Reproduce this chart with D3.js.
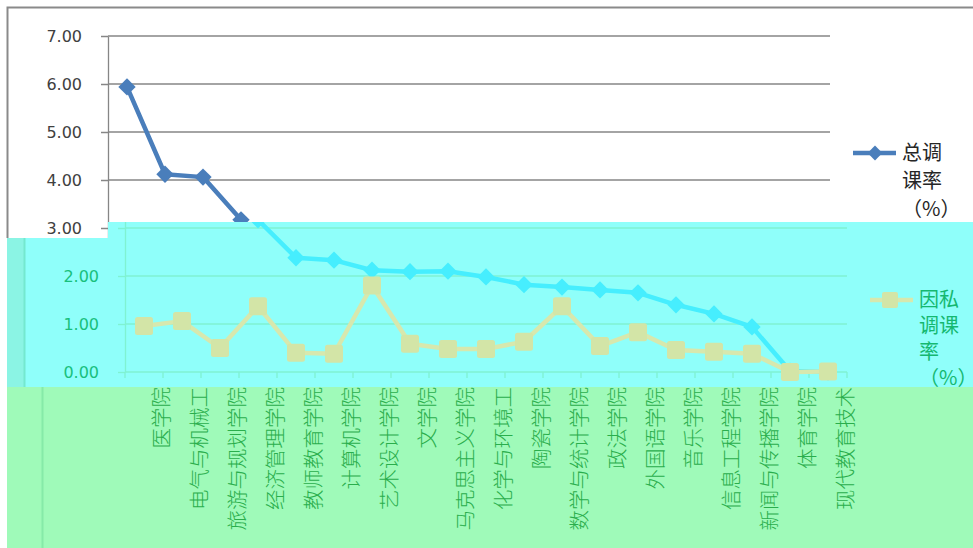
<!DOCTYPE html>
<html>
<head>
<meta charset="utf-8">
<script src="https://cdn.jsdelivr.net/npm/d3@7"></script>
<style>
  body { margin: 0; background: #fff; }
  svg { display: block; }
</style>
</head>
<body>
<div id="chart"></div>
<script>
var categories = ['医学院', '电气与机械工', '旅游与规划学院', '经济管理学院', '教师教育学院', '计算机学院',
  '艺术设计学院', '文学院', '马克思主义学院', '化学与环境工', '陶瓷学院', '数学与统计学院', '政法学院',
  '外国语学院', '音乐学院', '信息工程学院', '新闻与传播学院', '体育学院', '现代教育技术'];
var totalRate = [5.94, 4.12, 4.06, 3.17, 2.38, 2.33, 2.12, 2.09, 2.10, 1.98, 1.82, 1.77, 1.71, 1.65, 1.40, 1.21, 0.94, 0.02, 0.00];
var privateRate = [0.96, 1.06, 0.50, 1.37, 0.40, 0.38, 1.80, 0.59, 0.48, 0.48, 0.63, 1.37, 0.54, 0.83, 0.46, 0.42, 0.38, 0.00, 0.01];
var yTicks = [0, 1, 2, 3, 4, 5, 6, 7];
var legendTotal = ['总调', '课率', '（%）'];
var legendPrivate = ['因私', '调课', '率', '（%）'];

var width = 973, height = 548;
var numFormat = d3.format('.2f');

var x = d3.scaleBand().domain(categories).range([108, 830]);
var y = d3.scaleLinear().domain([0, 7]).range([372, 36]);
var cx = function(d, i) { return x(categories[i]) + x.bandwidth() / 2; };

var svg = d3.select('#chart').append('svg')
  .attr('width', width)
  .attr('height', height);

svg.append('rect')
  .attr('width', width)
  .attr('height', height)
  .attr('fill', '#fff');

var defs = svg.append('defs');
function addClip(id, rects) {
  var cp = defs.append('clipPath').attr('id', id);
  rects.forEach(function(r) {
    cp.append('rect').attr('x', r[0]).attr('y', r[1]).attr('width', r[2]).attr('height', r[3]);
  });
}
//the picture is split in three strips, the lower two are shifted and recoloured
var strips = {
  top: [[0, 0, 973, 222], [0, 222, 108, 16]],
  mid: [[0, 238, 973, 149], [108, 222, 865, 16]],
  bot: [[0, 387, 973, 161]]
};
addClip('clip-top', strips.top);
addClip('clip-mid', strips.mid);
addClip('clip-bot', strips.bot);

var palettes = {
  normal: { bg: null, border: '#8a8a8a', grid: '#868686', text: '#404040', legend: '#262626', s1: '#4a7ebb', s2: '#b5c98a', s2line: '#b5c98a' },
  cyan:   { bg: '#8ffffa', strip: '#8bf4e4', border: '#74e8cf', grid: '#7ff2d2', text: '#19c07c', legend: '#15b870', s1: '#46eefe', s2: '#d3e5a7', s2line: '#d7e8ae' },
  green:  { bg: '#9ffab9', border: '#86eaa8', grid: '#8aeeae', text: '#2aae4c', legend: '#2aae4c', s1: '#5fe8c8', s2: '#c8eaa8', s2line: '#c8eaa8' }
};

function drawChart(g, p) {
  //outer chart border
  g.append('path')
    .attr('d', 'M7.5,' + height + 'V7.5H' + width)
    .attr('fill', 'none')
    .attr('stroke', p.border)
    .attr('stroke-width', 2);

  //gridlines
  g.append('g').selectAll('line')
    .data(yTicks)
    .enter().append('line')
      .attr('x1', 108).attr('x2', 830)
      .attr('y1', function(d) { return y(d); })
      .attr('y2', function(d) { return y(d); })
      .attr('stroke', p.grid)
      .attr('stroke-width', 1.3);

  //y axis
  var yAxis = g.append('g')
    .attr('transform', 'translate(108,0)')
    .call(d3.axisLeft(y).tickValues(yTicks).tickFormat(numFormat).tickSize(7).tickSizeOuter(0).tickPadding(19));
  yAxis.select('.domain').attr('stroke', p.grid).attr('stroke-width', 1.3);
  yAxis.selectAll('.tick line').attr('stroke', p.grid).attr('stroke-width', 1.3);
  yAxis.selectAll('.tick text')
    .attr('fill', p.text)
    .style('font-family', 'DejaVu Sans, Verdana, sans-serif')
    .style('font-size', '16px');

  //x axis ticks between categories
  g.append('g').selectAll('line')
    .data(d3.range(categories.length + 1))
    .enter().append('line')
      .attr('x1', function(i) { return 108 + i * x.step(); })
      .attr('x2', function(i) { return 108 + i * x.step(); })
      .attr('y1', y(0)).attr('y2', y(0) + 6)
      .attr('stroke', p.grid)
      .attr('stroke-width', 1.3);

  //category labels
  g.append('g').selectAll('text')
    .data(categories)
    .enter().append('text')
      .attr('transform', function(d) { return 'translate(' + (x(d) + x.bandwidth() / 2) + ',387) rotate(-90)'; })
      .attr('text-anchor', 'end')
      .attr('dy', '0.36em')
      .attr('fill', p.text)
      .style('font-family', 'Noto Sans CJK SC, sans-serif')
      .style('font-weight', 300)
      .style('font-size', '20.5px')
      .text(function(d) { return d; });

  //series lines
  var line1 = d3.line().x(cx).y(function(d) { return y(d); });
  g.append('path')
    .datum(totalRate)
    .attr('d', line1)
    .attr('fill', 'none')
    .attr('stroke', p.s1)
    .attr('stroke-width', 4.5)
    .attr('stroke-linejoin', 'round');
  g.append('g').selectAll('path')
    .data(totalRate)
    .enter().append('path')
      .attr('d', d3.symbol(d3.symbolSquare, 150))
      .attr('transform', function(d, i) { return 'translate(' + cx(d, i) + ',' + y(d) + ') rotate(45)'; })
      .attr('fill', p.s1);

  g.append('path')
    .datum(privateRate)
    .attr('d', line1)
    .attr('fill', 'none')
    .attr('stroke', p.s2line)
    .attr('stroke-width', 4.5)
    .attr('stroke-linejoin', 'round');
  g.append('g').selectAll('rect')
    .data(privateRate)
    .enter().append('rect')
      .attr('x', function(d, i) { return cx(d, i) - 9; })
      .attr('y', function(d) { return y(d) - 9; })
      .attr('width', 18).attr('height', 18)
      .attr('rx', 2.5)
      .attr('fill', p.s2);

  //legend
  var leg1 = g.append('g').attr('transform', 'translate(853,153)');
  leg1.append('line').attr('x1', 0).attr('x2', 43).attr('stroke', p.s1).attr('stroke-width', 4.5);
  leg1.append('path').attr('d', d3.symbol(d3.symbolSquare, 110)).attr('transform', 'translate(22,0) rotate(45)').attr('fill', p.s1);
  leg1.selectAll('text')
    .data(legendTotal)
    .enter().append('text')
      .attr('x', 49)
      .attr('y', function(d, i) { return i * 28; })
      .attr('dy', '0.36em')
      .attr('fill', p.legend)
      .style('font-family', 'Noto Sans CJK SC, sans-serif')
      .style('font-size', '20px')
      .text(function(d) { return d; });

  var leg2 = g.append('g').attr('transform', 'translate(853,300)');
  leg2.append('line').attr('x1', 0).attr('x2', 43).attr('stroke', p.s2line).attr('stroke-width', 4.5);
  leg2.append('rect').attr('x', 12).attr('y', -8).attr('width', 16).attr('height', 16).attr('rx', 2).attr('fill', p.s2);
  leg2.selectAll('text')
    .data(legendPrivate)
    .enter().append('text')
      .attr('x', 49)
      .attr('y', function(d, i) { return i * 26; })
      .attr('dy', '0.36em')
      .attr('fill', p.legend)
      .style('font-family', 'Noto Sans CJK SC, sans-serif')
      .style('font-size', '20px')
      .text(function(d) { return d; });
}

function drawStrip(name, palette, shift) {
  var outer = svg.append('g').attr('clip-path', 'url(#clip-' + name + ')');
  if (palette.bg) {
    outer.append('rect').attr('x', 7).attr('y', 0).attr('width', width - 7).attr('height', height).attr('fill', palette.bg);
  }
  if (palette.strip) {
    outer.append('rect').attr('x', 7).attr('y', 0).attr('width', shift).attr('height', height).attr('fill', palette.strip);
  }
  var inner = outer.append('g').attr('transform', 'translate(' + shift + ',0)');
  drawChart(inner, palette);

  //drop texts that barely reach into this strip
  var svgBox = svg.node().getBoundingClientRect();
  inner.selectAll('text').each(function() {
    var b = this.getBoundingClientRect();
    var bx = b.left - svgBox.left, by = b.top - svgBox.top;
    var visible = strips[name].some(function(r) {
      var ox = Math.min(bx + b.width, r[0] + r[2]) - Math.max(bx, r[0]);
      var oy = Math.min(by + b.height, r[1] + r[3]) - Math.max(by, r[1]);
      return ox > 4 && oy > 6;
    });
    if (!visible) d3.select(this).remove();
  });
}

drawStrip('top', palettes.normal, 0);
drawStrip('mid', palettes.cyan, 17);
drawStrip('bot', palettes.green, 35);
</script>
</body>
</html>
